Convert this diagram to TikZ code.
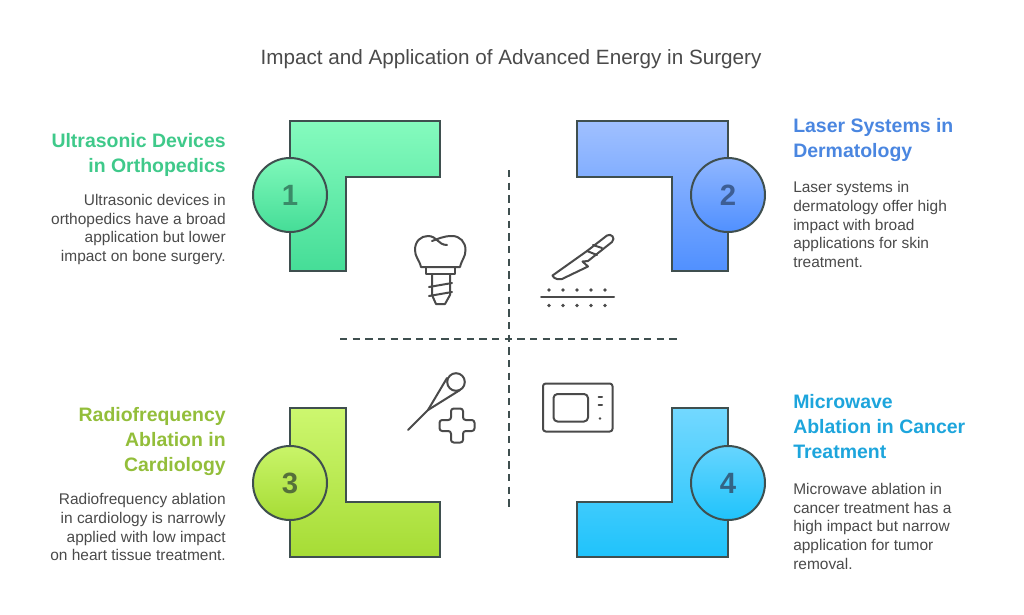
\documentclass[tikz,border=0pt]{standalone}
\usepackage{fontspec}
\setmainfont{Liberation Sans}
\definecolor{inkgrey}{HTML}{3F4F4F}
\definecolor{textgrey}{HTML}{4A4A4A}
\definecolor{titlegreen}{HTML}{3FC98A}
\definecolor{titleblue}{HTML}{4A86E0}
\definecolor{titlelime}{HTML}{93BE3A}
\definecolor{titlecyan}{HTML}{1DA5DC}
\definecolor{greentop}{HTML}{85FBBE}
\definecolor{greenbot}{HTML}{45DD97}
\definecolor{bluetop}{HTML}{A0C0FF}
\definecolor{bluebot}{HTML}{5090FF}
\definecolor{limetop}{HTML}{CDF76F}
\definecolor{limebot}{HTML}{A6DC35}
\definecolor{cyantop}{HTML}{73D8FF}
\definecolor{cyanbot}{HTML}{1FC3FB}
\definecolor{numgreen}{HTML}{3A8A68}
\definecolor{numblue}{HTML}{3D5E94}
\definecolor{numlime}{HTML}{55703A}
\definecolor{numcyan}{HTML}{336485}
\tikzset{
  elbow/.style={draw=inkgrey,line width=1.5pt,line join=miter},
  badge/.style={circle,draw=inkgrey,line width=1.5pt,minimum size=55.5pt,inner sep=0pt,
    font=\fontsize{22}{22}\selectfont\bfseries},
  headl/.style={anchor=north east,align=right,font=\fontsize{14.6}{18.7}\selectfont\bfseries,inner sep=0pt},
  headr/.style={anchor=north west,align=left,font=\fontsize{14.6}{18.7}\selectfont\bfseries,inner sep=0pt},
  bodyl/.style={anchor=north east,align=right,text=textgrey,font=\fontsize{11.6}{14}\selectfont,inner sep=0pt},
  bodyr/.style={anchor=north west,align=left,text=textgrey,font=\fontsize{11.6}{14}\selectfont,inner sep=0pt},
  iconline/.style={draw=textgrey,line width=1.5pt,line join=round,line cap=round},
  axisline/.style={draw=inkgrey,line width=1.3pt,dash pattern=on 5.5pt off 4pt}
}
\begin{document}
\begin{tikzpicture}[x=0.75pt,y=-0.75pt]
  \useasboundingbox (0,0) rectangle (1024,614);
  \node (title) at (511,59.5) {\fontsize{15.5}{18}\selectfont\color{textgrey}Impact and Application of Advanced Energy in Surgery};
  % axes
  \coordinate (vtop) at (509,170);
  \coordinate (vbot) at (509,508);
  \coordinate (hleft) at (340,339);
  \coordinate (hright) at (678,339);
  \draw [axisline] (vtop) -- (vbot);
  \draw [axisline] (hleft) -- (hright);
  % elbows
  \path [elbow,top color=greentop,bottom color=greenbot]
    (290,121) -- (440,121) -- (440,177) -- (346,177) -- (346,271) -- (290,271) -- cycle;
  \path [elbow,top color=bluetop,bottom color=bluebot]
    (577,121) -- (728,121) -- (728,271) -- (672,271) -- (672,177) -- (577,177) -- cycle;
  \path [elbow,top color=limetop,bottom color=limebot]
    (290,408) -- (346,408) -- (346,502) -- (440,502) -- (440,557) -- (290,557) -- cycle;
  \path [elbow,top color=cyantop,bottom color=cyanbot]
    (672,408) -- (728,408) -- (728,557) -- (577,557) -- (577,502) -- (672,502) -- cycle;
  % badges
  \node [badge,text=numgreen,top color=greentop!90!greenbot,bottom color=greenbot] (one) at (290,195) {1};
  \node [badge,text=numblue,top color=bluetop!80!bluebot,bottom color=bluebot] (two) at (728,195) {2};
  \node [badge,text=numlime,top color=limetop!90!limebot,bottom color=limebot] (three) at (290,483) {3};
  \node [badge,text=numcyan,top color=cyantop!85!cyanbot,bottom color=cyanbot] (four) at (728,483) {4};
  % texts
  \node [headl,text=titlegreen] (headone) at (226,133) {Ultrasonic Devices\\in Orthopedics};
  \node [bodyl] (bodyone) at (226,194) {Ultrasonic devices in\\orthopedics have a broad\\application but lower\\impact on bone surgery.};
  \node [headr,text=titleblue] (headtwo) at (793,118) {Laser Systems in\\Dermatology};
  \node [bodyr] (bodytwo) at (793,181.5) {Laser systems in\\dermatology offer high\\impact with broad\\applications for skin\\treatment.};
  \node [headl,text=titlelime] (headthree) at (226,407) {Radiofrequency\\Ablation in\\Cardiology};
  \node [bodyl] (bodythree) at (226,493.5) {Radiofrequency ablation\\in cardiology is narrowly\\applied with low impact\\on heart tissue treatment.};
  \node [headr,text=titlecyan] (headfour) at (793,394.5) {Microwave\\Ablation in Cancer\\Treatment};
  \node [bodyr] (bodyfour) at (793,483) {Microwave ablation in\\cancer treatment has a\\high impact but narrow\\application for tumor\\removal.};
  % tooth
  \draw [iconline] (421,267) .. controls (419,259) and (415,257) .. (415,250)
    .. controls (415,241) and (421,236) .. (428,236)
    .. controls (437,236) and (438,245) .. (447,245);
  \draw [iconline] (432,241) .. controls (438,239) and (443,236) .. (452,236)
    .. controls (460,236) and (465.5,242) .. (465.5,250)
    .. controls (465.5,257) and (462,259) .. (460,267) -- (421,267);
  \draw [iconline] (426,267) -- (426,274) -- (455,274) -- (455,267);
  \draw [iconline] (432,274) -- (432,295) -- (436,304) -- (445,304) -- (450,295) -- (450,274);
  \draw [iconline] (429,287) -- (452,283);
  \draw [iconline] (429,296) -- (452,292);
  % scalpel
  \draw [iconline] (552.5,275.5) -- (587,251) -- (607,235.5) .. controls (611,233) and (616,238) .. (612,242)
    -- (588,261) -- (582.5,261.5) -- (588,266.5) -- (562,279) -- (557,279) .. controls (555,279) and (553,277) .. (552.5,275.5) -- cycle;
  \draw [iconline] (587,251) -- (597,255);
  \draw [iconline] (593,245) -- (602,248);
  \draw [iconline] (541,297) -- (614,297);
  \foreach \dotx in {549,563,577,591,605} {
    \fill [textgrey] (\dotx,290) circle (1.4pt);
    \fill [textgrey] (\dotx,305.5) circle (1.4pt);
  }
  % needle and plus
  \draw [iconline] (408,430) -- (428,410);
  \draw [iconline] (428,410) -- (447,378);
  \draw [iconline] (428,410) -- (460,390);
  \draw [iconline] (456,382) circle (6.6pt);
  \draw [iconline,rounded corners=2pt] (451,408.5) -- (463,408.5) -- (463,420) -- (474.5,420) -- (474.5,431)
    -- (463,431) -- (463,442.5) -- (451,442.5) -- (451,431) -- (439.5,431) -- (439.5,420) -- (451,420) -- cycle;
  % microwave
  \draw [iconline,rounded corners=2pt] (543,383.5) rectangle (612.5,431.5);
  \draw [iconline,rounded corners=3pt] (553.5,394) rectangle (588,421.5);
  \draw [iconline] (598.5,397) -- (602,397);
  \draw [iconline] (598.5,404.5) -- (602,404.5);
  \fill [textgrey] (600,418.5) circle (1pt);
\end{tikzpicture}
\end{document}
